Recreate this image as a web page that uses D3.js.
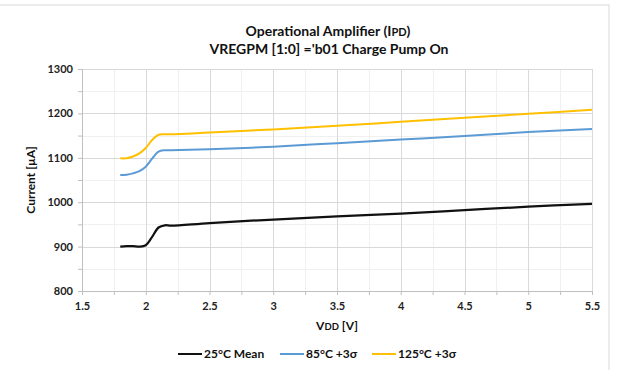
<!DOCTYPE html>
<html>
<head>
<meta charset="utf-8">
<script src="https://cdn.jsdelivr.net/npm/d3@7"></script>
<style>
  body { margin: 0; background: #fff; }
  text { font-family: Lato, "Open Sans", sans-serif; }
</style>
</head>
<body>
<div class="chartDiv"></div>
<script>
"use strict";

// Data:
var vdd = [1.8, 1.85, 1.9, 1.95, 2.0, 2.05, 2.1, 2.15, 2.2, 2.5, 3.0, 3.5, 4.0, 4.5, 5.0, 5.5];

var mean25 = [900, 901, 901, 900, 903, 922, 943, 948, 947, 953, 961, 968, 974, 982, 990, 996];
var sigma85 = [1061, 1062, 1065, 1070, 1080, 1098, 1114, 1117, 1117, 1119, 1125, 1133, 1141, 1149, 1158, 1165];
var sigma125 = [1099, 1099, 1103, 1110, 1122, 1140, 1152, 1153, 1153, 1157, 1164, 1172, 1181, 1190, 1199, 1208];

var seriesNames = ["25°C Mean", "85°C +3σ", "125°C +3σ"];
var seriesColors = ["#111111", "#5b9bd5", "#ffc000"];
var seriesData = [mean25, sigma85, sigma125];

var xTicks = [1.5, 2, 2.5, 3, 3.5, 4, 4.5, 5, 5.5];
var yTicks = [800, 900, 1000, 1100, 1200, 1300];

// SVG Properties:
var width = 618, height = 370;
var margin = { top: 69, right: 26, bottom: 79, left: 82 };
var plotW = width - margin.left - margin.right;
var plotH = height - margin.top - margin.bottom;

var svg = d3.select(".chartDiv").append("svg")
    .attr("width", width)
    .attr("height", height);

// chart frame
svg.append("rect")
    .attr("x", -1).attr("y", 5)
    .attr("width", 610).attr("height", 370)
    .attr("fill", "none")
    .attr("stroke", "#d9d9d9");

var xScale = d3.scaleLinear().domain([1.5, 5.5]).range([0, plotW]);
var yScale = d3.scaleLinear().domain([800, 1300]).range([plotH, 0]);

var g = svg.append("g")
    .attr("transform", "translate(" + margin.left + "," + margin.top + ")");

// minor grid
var xMinor = d3.range(1.75, 5.5, 0.5);
var yMinor = d3.range(850, 1300, 100);

g.selectAll(".xminor").data(xMinor).enter().append("line")
    .attr("x1", function(d) { return Math.round(xScale(d)) + 0.5; })
    .attr("x2", function(d) { return Math.round(xScale(d)) + 0.5; })
    .attr("y1", 0).attr("y2", plotH)
    .attr("stroke", "#f0f0f0");
g.selectAll(".yminor").data(yMinor).enter().append("line")
    .attr("y1", function(d) { return Math.round(yScale(d)) + 0.5; })
    .attr("y2", function(d) { return Math.round(yScale(d)) + 0.5; })
    .attr("x1", 0).attr("x2", plotW)
    .attr("stroke", "#f0f0f0");

// major grid
g.selectAll(".xmajor").data(xTicks.slice(1)).enter().append("line")
    .attr("x1", function(d) { return Math.round(xScale(d)) + 0.5; })
    .attr("x2", function(d) { return Math.round(xScale(d)) + 0.5; })
    .attr("y1", 0).attr("y2", plotH)
    .attr("stroke", "#d9d9d9");
g.selectAll(".ymajor").data(yTicks.slice(1)).enter().append("line")
    .attr("y1", function(d) { return Math.round(yScale(d)) + 0.5; })
    .attr("y2", function(d) { return Math.round(yScale(d)) + 0.5; })
    .attr("x1", 0).attr("x2", plotW)
    .attr("stroke", "#d9d9d9");

// axes
var xAxis = d3.axisBottom(xScale)
    .tickValues(d3.range(1.5, 5.51, 0.25))
    .tickSize(4)
    .tickFormat(function(d) { return xTicks.indexOf(d) >= 0 ? String(d) : ""; });
var yAxis = d3.axisLeft(yScale)
    .tickValues(d3.range(800, 1301, 50))
    .tickSize(4)
    .tickFormat(function(d) { return yTicks.indexOf(d) >= 0 ? String(d) : ""; });

var gx = g.append("g").attr("transform", "translate(0," + plotH + ")").call(xAxis);
var gy = g.append("g").call(yAxis);

[gx, gy].forEach(function(a) {
    a.select(".domain").attr("stroke", "#bfbfbf");
    a.selectAll(".tick line").attr("stroke", "#bfbfbf");
    a.selectAll(".tick text")
        .attr("fill", "#222")
        .style("font-size", "11px")
        .style("font-weight", "bold")
        .style("font-family", "Lato, sans-serif");
});
gx.selectAll(".tick text").attr("dy", "1.1em");
gy.selectAll(".tick text").attr("x", -9);

// lines
var line = d3.line()
    .x(function(d, i) { return xScale(vdd[i]); })
    .y(function(d) { return yScale(d); })
    .curve(d3.curveCatmullRom.alpha(0.5));

g.selectAll(".series").data(seriesData).enter().append("path")
    .attr("d", function(d) { return line(d); })
    .attr("fill", "none")
    .attr("stroke", function(d, i) { return seriesColors[i]; })
    .attr("stroke-width", function(d, i) { return i == 0 ? 2.25 : 2; })
    .attr("stroke-linejoin", "round");

// titles
var title = svg.append("text")
    .attr("x", 328).attr("y", 36)
    .attr("text-anchor", "middle")
    .style("font-size", "14px").style("font-weight", "bold").attr("fill", "#111");
title.append("tspan").text("Operational Amplifier (I");
title.append("tspan").style("font-size", "11px").text("PD");
title.append("tspan").text(")");

svg.append("text")
    .attr("x", 329).attr("y", 54)
    .attr("text-anchor", "middle")
    .style("font-size", "14px").style("font-weight", "bold").attr("fill", "#111")
    .text("VREGPM [1:0] ='b01 Charge Pump On");

// axis titles
svg.append("text")
    .attr("transform", "translate(35," + (margin.top + plotH / 2) + ") rotate(-90)")
    .attr("text-anchor", "middle")
    .style("font-size", "12px").style("font-weight", "bold").attr("fill", "#111")
    .text("Current [µA]");

var xt = svg.append("text")
    .attr("x", 337).attr("y", 330)
    .attr("text-anchor", "middle")
    .style("font-size", "12px").style("font-weight", "bold").attr("fill", "#111");
xt.append("tspan").text("V");
xt.append("tspan").style("font-size", "9.5px").text("DD");
xt.append("tspan").text(" [V]");

// legend
var legendX = [178, 280, 372];
var legend = svg.selectAll(".legend").data(seriesNames).enter().append("g")
    .attr("transform", function(d, i) { return "translate(" + legendX[i] + ",354)"; });
legend.append("line")
    .attr("x1", 0).attr("x2", 24)
    .attr("stroke", function(d, i) { return seriesColors[i]; })
    .attr("stroke-width", 2);
legend.append("text")
    .attr("x", 26).attr("y", 4)
    .style("font-size", "12px").style("font-weight", "bold").attr("fill", "#111")
    .text(function(d) { return d; });
</script>
</body>
</html>
